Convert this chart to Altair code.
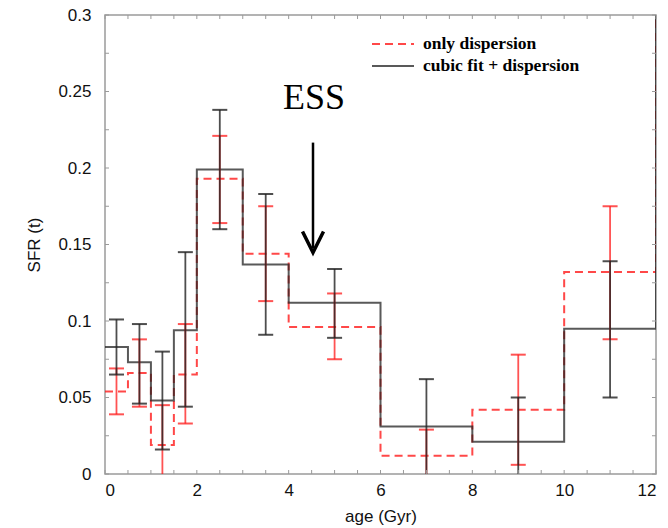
import altair as alt
import pandas as pd

# ---------------- data ----------------
bin_edges = [0, 0.5, 1, 1.5, 2, 3, 4, 6, 8, 10, 12]
bin_centers = [0.25, 0.75, 1.25, 1.75, 2.5, 3.5, 5, 7, 9, 11]

sfr_cubic = [0.083, 0.073, 0.048, 0.094, 0.199, 0.137, 0.112, 0.031, 0.021, 0.095]
cubic_lo = [0.065, 0.046, 0.016, 0.044, 0.160, 0.091, 0.089, -0.01, -0.01, 0.050]
cubic_hi = [0.101, 0.098, 0.080, 0.145, 0.238, 0.183, 0.134, 0.062, 0.050, 0.139]

sfr_disp = [0.054, 0.066, 0.019, 0.065, 0.193, 0.144, 0.096, 0.012, 0.042, 0.132]
disp_lo = [0.039, 0.044, -0.01, 0.033, 0.164, 0.113, 0.075, -0.01, 0.006, 0.088]
disp_hi = [0.069, 0.088, 0.045, 0.098, 0.221, 0.175, 0.118, 0.029, 0.078, 0.175]

# value of the step just beyond the last edge (runs off the top of the plot)
beyond_last = [0.32, 0.32]  # [dispersion, cubic]

series_names = ["only dispersion", "cubic fit + dispersion"]

x_tick_labels = [0, 2, 4, 6, 8, 10, 12]
y_tick_labels = [0, 0.05, 0.1, 0.15, 0.2, 0.25, 0.3]
x_minor_ticks = [0, 0.5, 1, 1.5, 2, 2.5, 3, 3.5, 4, 4.5, 5, 5.5, 6, 6.5, 7, 7.5,
                 8, 8.5, 9, 9.5, 10, 10.5, 11, 11.5, 12]
y_minor_ticks = [0, 0.025, 0.05, 0.075, 0.1, 0.125, 0.15, 0.175, 0.2, 0.225,
                 0.25, 0.275, 0.3]

ess_text = {"x": 4.55, "y": 0.2384, "label": "ESS"}
arrow = {"x": 4.53, "y_start": 0.2166, "y_end": 0.1477, "head_y": 0.1516}

# ---------------- styling ----------------
W, H = 551, 459
RED = "#ff1a1a"
BLACK = "#222222"
FRAME = "#9a9a9a"


def step_frame(values, tail):
    rows = []
    k = 0
    for i, v in enumerate(values):
        rows.append({"age": bin_edges[i], "sfr": v, "k": k}); k += 1
        rows.append({"age": bin_edges[i + 1], "sfr": v, "k": k}); k += 1
    rows.append({"age": bin_edges[-1], "sfr": tail, "k": k})
    return pd.DataFrame(rows)


xs = alt.Scale(domain=[0, 12], nice=False, zero=False)
ys = alt.Scale(domain=[0, 0.3], nice=False, zero=False)

x_enc = alt.X("age:Q", scale=xs,
              axis=alt.Axis(values=x_tick_labels, format="d", title="age (Gyr)",
                            labelPadding=8, titlePadding=10))
y_enc = alt.Y("sfr:Q", scale=ys,
              axis=alt.Axis(values=y_tick_labels, format="~g", title="SFR (t)",
                            labelPadding=14, titlePadding=14))

step_disp = alt.Chart(step_frame(sfr_disp, beyond_last[0])).mark_line(
    color=RED, strokeWidth=2, strokeDash=[8, 5], opacity=0.8, clip=True
).encode(x=x_enc, y=y_enc, order="k:Q")

step_cubic = alt.Chart(step_frame(sfr_cubic, beyond_last[1])).mark_line(
    color=BLACK, strokeWidth=2, opacity=0.75, clip=True
).encode(x="age:Q", y="sfr:Q", order="k:Q")

err_disp_df = pd.DataFrame({"age": bin_centers, "lo": disp_lo, "hi": disp_hi})
err_cubic_df = pd.DataFrame({"age": bin_centers, "lo": cubic_lo, "hi": cubic_hi})


def err_layers(df, color, opacity):
    bar = alt.Chart(df).mark_rule(color=color, strokeWidth=1.8, opacity=opacity, clip=True).encode(
        x="age:Q", y="lo:Q", y2="hi:Q")
    cap_lo = alt.Chart(df).mark_tick(color=color, orient="horizontal", size=15, thickness=2,
                                     opacity=opacity, clip=True).encode(x="age:Q", y="lo:Q")
    cap_hi = alt.Chart(df).mark_tick(color=color, orient="horizontal", size=15, thickness=2,
                                     opacity=opacity, clip=True).encode(x="age:Q", y="hi:Q")
    return [bar, cap_lo, cap_hi]


# inward ticks on all four sides
xt = pd.DataFrame({"t": x_minor_ticks})
yt = pd.DataFrame({"t": y_minor_ticks})
tick_style = dict(color=FRAME, strokeWidth=1)
ticks = [
    alt.Chart(xt).mark_rule(**tick_style).encode(x="t:Q", y=alt.value(H), y2=alt.value(H - 4)),
    alt.Chart(xt).mark_rule(**tick_style).encode(x="t:Q", y=alt.value(0), y2=alt.value(4)),
    alt.Chart(yt).mark_rule(**tick_style).encode(y="t:Q", x=alt.value(0), x2=alt.value(4)),
    alt.Chart(yt).mark_rule(**tick_style).encode(y="t:Q", x=alt.value(W), x2=alt.value(W - 4)),
]

# annotation
ess = alt.Chart(pd.DataFrame([ess_text])).mark_text(
    font="Liberation Serif", fontSize=36, align="center", baseline="alphabetic", color="#000"
).encode(x="x:Q", y="y:Q", text="label:N")

arrow_df = pd.DataFrame([arrow])
arrow_line = alt.Chart(arrow_df).mark_rule(color="#000", strokeWidth=2.5).encode(
    x="x:Q", y="y_start:Q", y2="y_end:Q")
arrow_head = alt.Chart(arrow_df).mark_point(
    shape="M -1 -1 L 0 1 L 1 -1", filled=False, size=441, strokeWidth=3.5,
    color="#000", opacity=1, strokeJoin="miter"
).encode(x="x:Q", y="head_y:Q")

# legend (drawn manually, top right inside the plot)
leg_df = pd.DataFrame({"name": series_names, "row": [0, 1]})
leg_y = [29, 51]
leg_red = alt.Chart(leg_df.iloc[[0]]).mark_rule(
    color=RED, strokeWidth=2, strokeDash=[8, 5], opacity=0.8
).encode(x=alt.value(267), x2=alt.value(309), y=alt.value(leg_y[0]))
leg_black = alt.Chart(leg_df.iloc[[1]]).mark_rule(
    color=BLACK, strokeWidth=2, opacity=0.75
).encode(x=alt.value(267), x2=alt.value(309), y=alt.value(leg_y[1]))
leg_text0 = alt.Chart(leg_df.iloc[[0]]).mark_text(
    font="Liberation Serif", fontSize=17.5, fontWeight="bold", align="left", baseline="middle",
    color="#000"
).encode(x=alt.value(318), y=alt.value(leg_y[0]), text="name:N")
leg_text1 = alt.Chart(leg_df.iloc[[1]]).mark_text(
    font="Liberation Serif", fontSize=17.5, fontWeight="bold", align="left", baseline="middle",
    color="#000"
).encode(x=alt.value(318), y=alt.value(leg_y[1]), text="name:N")

layers = [step_disp, step_cubic] + err_layers(err_disp_df, RED, 0.75) + \
    err_layers(err_cubic_df, BLACK, 0.8) + ticks + \
    [ess, arrow_line, arrow_head, leg_red, leg_black, leg_text0, leg_text1]

chart = alt.layer(*layers).properties(
    width=W, height=H,
    background="white",
    autosize=alt.AutoSizeParams(type="none"),
    padding={"left": 105, "top": 15, "right": 12, "bottom": 54},
).configure_view(
    stroke=FRAME, strokeWidth=1.5
).configure_axis(
    domain=False, grid=False, ticks=False,
    labelFont="Liberation Sans", labelFontSize=17, labelColor="#111",
    titleFont="Liberation Sans", titleFontSize=17, titleFontWeight="normal", titleColor="#111",
)

chart.save("out.html", embed_options={"renderer": "svg", "actions": False})
